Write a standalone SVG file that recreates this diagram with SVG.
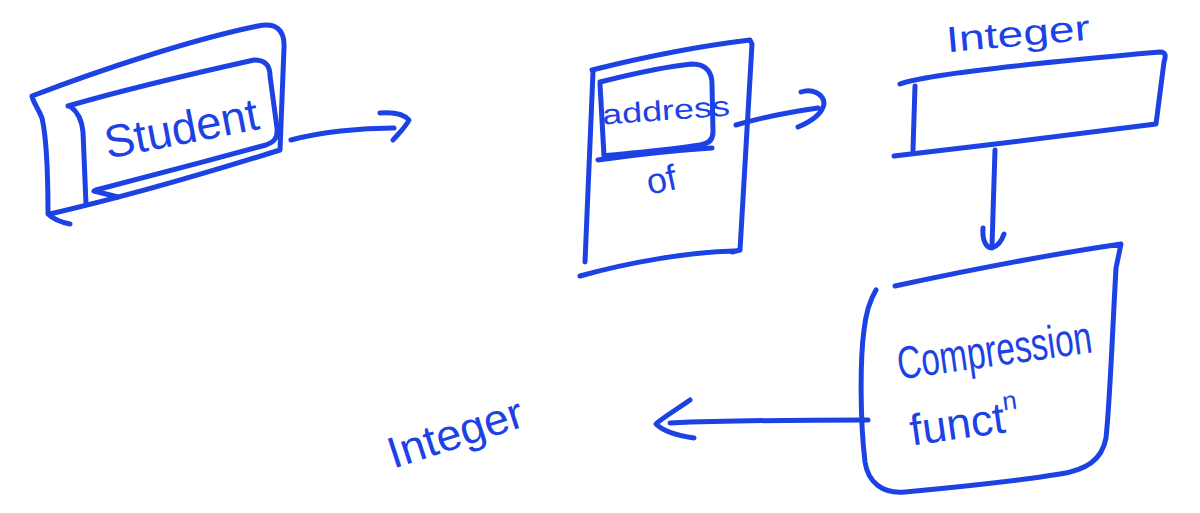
<svg xmlns="http://www.w3.org/2000/svg" width="1200" height="513" viewBox="0 0 1200 513">
  <style>
    .ink { fill: none; stroke: #1d42e4; stroke-width: 5; stroke-linecap: round; stroke-linejoin: round; }
    .hand { fill: #1d42e4; font-family: "Liberation Sans", "DejaVu Sans", sans-serif; }
  </style>
  <rect width="1200" height="513" fill="#ffffff"/>

  <!-- Student record -->
  <g id="student">
    <path class="ink" d="M70,224 C60,222 52,218 48,214 C48,180 47,140 42,118 C38,108 33,102 32,96 C100,70 190,40 258,26 C276,22 285,30 284,48 L280,150 C210,172 120,198 50,214"/>
    <path class="ink" d="M68,106 C130,88 200,72 254,60 C266,60 270,66 270,76 L277,128 C278,138 274,142 266,145 C210,160 150,176 96,190"/>
    <path class="ink" d="M70,106 C78,112 82,120 83,132 L86,204"/>
    <path class="ink" d="M94,191 L118,197"/>
    <text class="hand" x="182" y="144" font-size="46" text-anchor="middle" textLength="156" lengthAdjust="spacingAndGlyphs" transform="rotate(-11 182 132)">Student</text>
  </g>

  <!-- address of -->
  <g id="address">
    <path class="ink" d="M592,70 C640,58 700,46 750,40 L752,44 L740,250 L732,252"/>
    <path class="ink" d="M593,72 L585,262"/>
    <path class="ink" d="M580,276 C630,262 690,252 734,251"/>
    <path class="ink" d="M600,82 C640,72 670,66 692,64 C706,64 712,72 712,84 L713,132 C713,140 708,144 700,145 C670,150 630,153 604,156 L600,84"/>
    <path class="ink" d="M598,160 C640,154 680,150 712,148"/>
    <text class="hand" x="666" y="120" font-size="28" text-anchor="middle" textLength="128" lengthAdjust="spacingAndGlyphs" transform="rotate(-4 666 112)">address</text>
    <text class="hand" x="661" y="192" font-size="36" text-anchor="middle" transform="rotate(-12 661 178)">of</text>
  </g>

  <!-- Integer array -->
  <g id="integer-top">
    <path class="ink" d="M900,84 C920,76 1000,66 1160,52 C1166,52 1166,56 1164,62 L1156,124 C1080,134 980,146 894,156"/>
    <path class="ink" d="M915,86 L913,150"/>
    <text class="hand" x="1018" y="46" font-size="36" text-anchor="middle" textLength="144" lengthAdjust="spacingAndGlyphs" transform="rotate(-5 1018 34)">Integer</text>
  </g>

  <!-- Compression function -->
  <g id="compression">
    <path class="ink" d="M895,286 C960,272 1040,256 1121,244 L1116,268 C1112,340 1110,400 1106,438 C1102,460 1086,470 1060,474 C1010,482 950,488 905,492 C882,494 868,482 865,462 C860,420 860,360 864,330 C866,312 870,300 876,290"/>
    <text class="hand" x="994" y="366" font-size="46" text-anchor="middle" textLength="196" lengthAdjust="spacingAndGlyphs" transform="rotate(-8 994 348)">Compression</text>
    <text class="hand" x="964" y="438" font-size="44" text-anchor="middle" transform="rotate(-8 964 420)">funct<tspan font-size="26" dy="-22">n</tspan></text>
  </g>

  <!-- Integer result -->
  <g id="integer-result">
    <text class="hand" x="455" y="448" font-size="44" text-anchor="middle" textLength="140" lengthAdjust="spacingAndGlyphs" transform="rotate(-18 455 432)">Integer</text>
  </g>

  <!-- Connectors -->
  <g id="connectors">
    <path class="ink" d="M291,140 C320,132 360,128 394,128"/>
    <path class="ink" d="M380,113 C392,112 404,114 409,120 C405,128 398,134 393,140"/>
    <path class="ink" d="M736,125 C760,118 790,112 818,108"/>
    <path class="ink" d="M801,92 C812,88 824,94 824,104 C822,114 810,122 798,127"/>
    <path class="ink" d="M995,150 L992,246"/>
    <path class="ink" d="M983,228 C982,240 986,248 992,248 C998,246 1002,240 1004,234"/>
    <path class="ink" d="M868,420 C820,420 740,420 670,423"/>
    <path class="ink" d="M690,400 C676,410 662,418 656,424 C664,432 680,436 694,438"/>
  </g>
</svg>
